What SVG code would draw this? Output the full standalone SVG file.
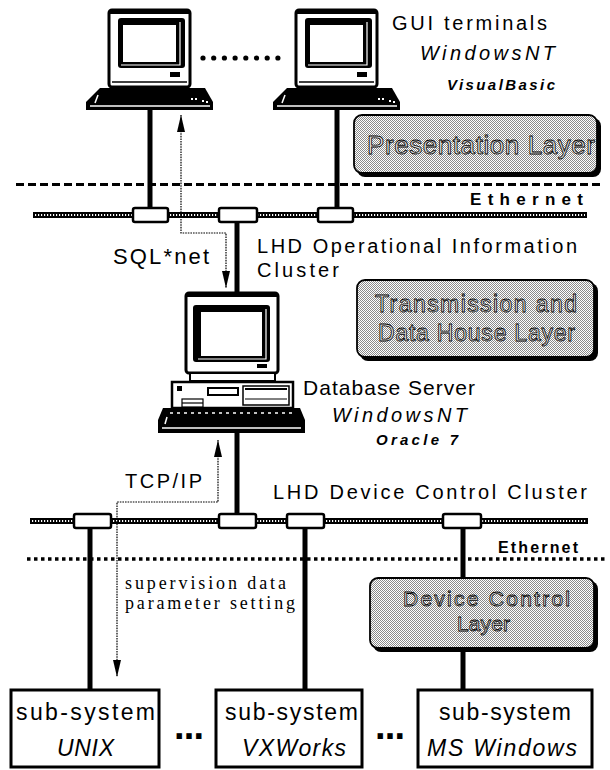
<svg xmlns="http://www.w3.org/2000/svg" width="610" height="770" viewBox="0 0 610 770">
  <style>
    .sans { font-family: "Liberation Sans", Arial, sans-serif; fill: #000; }
    .serif { font-family: "Liberation Serif", "Times New Roman", serif; fill: #000; }
    .it { font-style: italic; }
    .bd { font-weight: bold; }
    .layerText { font-family: "Liberation Sans", Arial, sans-serif; fill: #e2e2e2; stroke: #000; stroke-width: 0.8; }
    .pole { stroke: #000; stroke-width: 5; fill: none; }
    .rope { stroke: #000; stroke-width: 6; fill: none; }
    .ropeHatch { stroke: #fff; stroke-width: 2.2; stroke-dasharray: 1.2 1.8; fill: none; }
    .tap { fill: #fff; stroke: #000; stroke-width: 2.5; }
    .flow { stroke: #000; stroke-width: 1.2; stroke-dasharray: 1.6 1; fill: none; marker-start: url(#head); marker-end: url(#head); }
    .layerBox { fill: url(#stipple); stroke: #000; stroke-width: 1.8; }
    .layerShadow { fill: #000; }
    .subBox { fill: #fff; stroke: #000; stroke-width: 3; }
  </style>
  <defs>
    <pattern id="stipple" width="2" height="2" patternUnits="userSpaceOnUse">
      <rect width="2" height="2" fill="#fff"/>
      <rect width="1" height="1" fill="#8a8a8a"/>
      <rect x="1" y="1" width="1" height="1" fill="#8a8a8a"/>
    </pattern>
    <marker id="head" viewBox="0 0 17 8" refX="17" refY="4" markerWidth="17" markerHeight="8" markerUnits="userSpaceOnUse" orient="auto-start-reverse">
      <path d="M0,0 L17,4 L0,8 Z" fill="#000"/>
    </marker>
    <!-- desktop terminal icon, origin at the monitor's top-left corner -->
    <g id="terminalIcon">
      <rect x="0" y="0" width="81" height="77" rx="3" fill="#fff" stroke="#000" stroke-width="3"/>
      <rect x="0" y="0" width="81" height="4" fill="#000"/>
      <rect x="9" y="8" width="67" height="50" rx="3" fill="#000"/>
      <rect x="14" y="15" width="53" height="37" fill="#fff"/>
      <path d="M71,12 V55 H12" stroke="#fff" stroke-width="1.2" fill="none"/>
      <rect x="61" y="62" width="10" height="5" fill="#000"/>
      <line x1="3" y1="72" x2="78" y2="72" stroke="#000" stroke-width="1.5"/>
      <path d="M-9,78 H96 L104,92 V100 H-23 V92 Z" fill="#000"/>
      <line x1="-19" y1="96" x2="101" y2="96" stroke="#fff" stroke-width="1.5"/>
      <line x1="-14" y1="93" x2="-11" y2="85" stroke="#fff" stroke-width="1.5"/>
      <rect x="82" y="88" width="2" height="2" fill="#fff"/>
      <rect x="86" y="88" width="2" height="2" fill="#fff"/>
      <rect x="93" y="90" width="2" height="2" fill="#fff"/>
      <rect x="97" y="91" width="2" height="2" fill="#fff"/>
    </g>
  </defs>

  <rect width="610" height="770" fill="#fff"/>

  <!-- layer separators -->
  <g id="separators">
    <line x1="16" y1="184.5" x2="602" y2="184.5" stroke="#000" stroke-width="3" stroke-dasharray="8 4"/>
    <line x1="27" y1="559" x2="608" y2="559" stroke="#000" stroke-width="3.5" stroke-dasharray="3.5 3.5"/>
  </g>

  <!-- connectors: drops, network cables and data flows -->
  <g id="connectors">
    <line class="pole" x1="150" y1="110" x2="150" y2="210"/>
    <line class="pole" x1="337" y1="110" x2="337" y2="210"/>
    <line class="pole" x1="237" y1="220" x2="237" y2="294"/>
    <line class="pole" x1="237" y1="432" x2="237" y2="516"/>
    <line class="pole" x1="90" y1="526" x2="90" y2="690"/>
    <line class="pole" x1="305" y1="526" x2="305" y2="690"/>
    <line class="pole" x1="463" y1="526" x2="463" y2="579"/>
    <line class="pole" x1="463" y1="651" x2="463" y2="690"/>

    <g id="ethernetTop">
      <line class="rope" x1="33" y1="215" x2="587" y2="215"/>
      <line class="ropeHatch" x1="35" y1="215" x2="585" y2="215"/>
      <rect class="tap" x="133" y="208" width="35" height="14" rx="2"/>
      <rect class="tap" x="219" y="208" width="38" height="14" rx="2"/>
      <rect class="tap" x="318" y="208" width="35" height="14" rx="2"/>
    </g>
    <g id="ethernetBottom">
      <line class="rope" x1="30" y1="521" x2="588" y2="521"/>
      <line class="ropeHatch" x1="32" y1="521" x2="586" y2="521"/>
      <rect class="tap" x="74" y="514" width="37" height="14" rx="2"/>
      <rect class="tap" x="219" y="514" width="37" height="14" rx="2"/>
      <rect class="tap" x="287" y="514" width="37" height="14" rx="2"/>
      <rect class="tap" x="443" y="514" width="38" height="14" rx="2"/>
    </g>

    <path id="sqlFlow" class="flow" d="M181,115 V233 H226 V288"/>
    <path id="tcpFlow" class="flow" d="M218,440 V502 H117 V677"/>
  </g>

  <!-- GUI terminals -->
  <g id="guiTerminal1">
    <use href="#terminalIcon" x="109" y="10"/>
  </g>
  <g id="terminalEllipsis">
    <circle cx="203" cy="58" r="2.6"/>
    <circle cx="213.7" cy="58" r="2.6"/>
    <circle cx="224.4" cy="58" r="2.6"/>
    <circle cx="235.1" cy="58" r="2.6"/>
    <circle cx="245.8" cy="58" r="2.6"/>
    <circle cx="256.5" cy="58" r="2.6"/>
    <circle cx="267.2" cy="58" r="2.6"/>
    <circle cx="277.9" cy="58" r="2.6"/>
  </g>
  <g id="guiTerminal2">
    <use href="#terminalIcon" x="296" y="10"/>
  </g>
  <g id="guiLabel">
    <text class="sans" x="392" y="30" font-size="20" textLength="155" lengthAdjust="spacing">GUI terminals</text>
    <text class="sans it" x="420" y="60" font-size="20" textLength="135" lengthAdjust="spacing">WindowsNT</text>
    <text class="sans it bd" x="447" y="90" font-size="15" textLength="108" lengthAdjust="spacing">VisualBasic</text>
  </g>

  <!-- layer boxes -->
  <g id="presentationLayer">
    <rect class="layerShadow" x="357" y="118" width="244" height="59" rx="8"/>
    <rect class="layerBox" x="354" y="115" width="243" height="58" rx="8"/>
    <text class="layerText" x="367" y="154" font-size="26" textLength="228" lengthAdjust="spacing">Presentation Layer</text>
  </g>
  <g id="transmissionLayer">
    <rect class="layerShadow" x="360" y="283" width="238" height="78" rx="8"/>
    <rect class="layerBox" x="357" y="280" width="237" height="77" rx="8"/>
    <text class="layerText" x="375" y="312" font-size="23" textLength="202" lengthAdjust="spacing">Transmission and</text>
    <text class="layerText" x="378" y="341" font-size="23" textLength="197" lengthAdjust="spacing">Data House Layer</text>
  </g>
  <g id="deviceControlLayer">
    <rect class="layerShadow" x="373" y="581" width="225" height="71" rx="8"/>
    <rect class="layerBox" x="370" y="578" width="224" height="70" rx="8"/>
    <text class="layerText" x="403" y="606" font-size="21" textLength="167" lengthAdjust="spacing">Device Control</text>
    <text class="layerText" x="457" y="631" font-size="21" textLength="53" lengthAdjust="spacing">Layer</text>
  </g>

  <!-- network labels -->
  <g id="networkLabels">
    <text class="sans bd" x="470" y="205" font-size="17" textLength="113" lengthAdjust="spacing">Ethernet</text>
    <text class="sans" x="113" y="264" font-size="22" textLength="96" lengthAdjust="spacing">SQL*net</text>
    <text class="sans" x="257" y="253" font-size="20" textLength="320" lengthAdjust="spacing">LHD Operational Information</text>
    <text class="sans" x="257" y="277" font-size="20" textLength="82" lengthAdjust="spacing">Cluster</text>
    <text class="sans" x="125" y="488" font-size="20" textLength="77" lengthAdjust="spacing">TCP/IP</text>
    <text class="sans" x="273" y="499" font-size="20" textLength="314" lengthAdjust="spacing">LHD Device Control Cluster</text>
    <text class="sans bd" x="498" y="553" font-size="16" textLength="80" lengthAdjust="spacing">Ethernet</text>
    <text class="serif" x="125" y="589" font-size="18" textLength="161" lengthAdjust="spacing">supervision data</text>
    <text class="serif" x="125" y="609" font-size="18" textLength="170" lengthAdjust="spacing">parameter setting</text>
  </g>

  <!-- database server -->
  <g id="databaseServer">
    <rect x="186" y="293" width="92" height="80" rx="3" fill="#fff" stroke="#000" stroke-width="3"/>
    <rect x="186" y="293" width="92" height="4" fill="#000"/>
    <rect x="193" y="305" width="77" height="57" rx="3" fill="#000"/>
    <rect x="201" y="312" width="61" height="44" fill="#fff"/>
    <path d="M266,309 V359 H198" stroke="#fff" stroke-width="1.2" fill="none"/>
    <rect x="257" y="364" width="10" height="4" fill="#000"/>
    <rect x="190" y="373" width="85" height="8" fill="#fff" stroke="#000" stroke-width="2"/>
    <rect x="172" y="382" width="121" height="26" fill="#fff" stroke="#000" stroke-width="2.5"/>
    <rect x="177" y="386" width="5" height="5" fill="#000"/>
    <rect x="208" y="388" width="30" height="7" fill="#fff" stroke="#000" stroke-width="2"/>
    <rect x="243" y="386" width="46" height="19" fill="#fff" stroke="#000" stroke-width="1.5"/>
    <line x1="245" y1="389" x2="287" y2="389" stroke="#000" stroke-width="2"/>
    <line x1="245" y1="399" x2="287" y2="399" stroke="#000" stroke-width="1"/>
    <rect x="182" y="399" width="21" height="8" fill="#fff" stroke="#000" stroke-width="1.2"/>
    <line x1="182" y1="403" x2="203" y2="403" stroke="#000" stroke-width="1.2"/>
    <path d="M163,408 H300 L305,420 V433 H158 V420 Z" fill="#000"/>
    <line x1="170" y1="413" x2="292" y2="413" stroke="#fff" stroke-width="1.6" stroke-dasharray="3 4"/>
    <line x1="162" y1="428" x2="301" y2="428" stroke="#fff" stroke-width="1.5"/>
    <line x1="165" y1="424" x2="167" y2="417" stroke="#fff" stroke-width="1.5"/>
  </g>
  <g id="databaseLabel">
    <text class="sans" x="303" y="395" font-size="21" textLength="172" lengthAdjust="spacing">Database Server</text>
    <text class="sans it" x="332" y="422" font-size="20" textLength="135" lengthAdjust="spacing">WindowsNT</text>
    <text class="sans it bd" x="376" y="445" font-size="15" textLength="82" lengthAdjust="spacing">Oracle 7</text>
  </g>

  <!-- sub-systems -->
  <g id="subsystemUnix">
    <rect class="subBox" x="11" y="690" width="148" height="77"/>
    <text class="sans" x="16" y="720" font-size="23" textLength="139" lengthAdjust="spacing">sub-system</text>
    <text class="sans it" x="57" y="756" font-size="23" textLength="57" lengthAdjust="spacing">UNIX</text>
  </g>
  <g id="subsystemVxworks">
    <rect class="subBox" x="216" y="690" width="146" height="77"/>
    <text class="sans" x="225" y="720" font-size="23" textLength="133" lengthAdjust="spacing">sub-system</text>
    <text class="sans it" x="242" y="756" font-size="23" textLength="104" lengthAdjust="spacing">VXWorks</text>
  </g>
  <g id="subsystemWindows">
    <rect class="subBox" x="418" y="690" width="174" height="77"/>
    <text class="sans" x="439" y="720" font-size="23" textLength="132" lengthAdjust="spacing">sub-system</text>
    <text class="sans it" x="427" y="756" font-size="23" textLength="150" lengthAdjust="spacing">MS Windows</text>
  </g>
  <g id="subsystemEllipses">
    <text class="sans bd" x="174" y="739" font-size="38" textLength="30" lengthAdjust="spacing">...</text>
    <text class="sans bd" x="375" y="739" font-size="38" textLength="30" lengthAdjust="spacing">...</text>
  </g>
</svg>
